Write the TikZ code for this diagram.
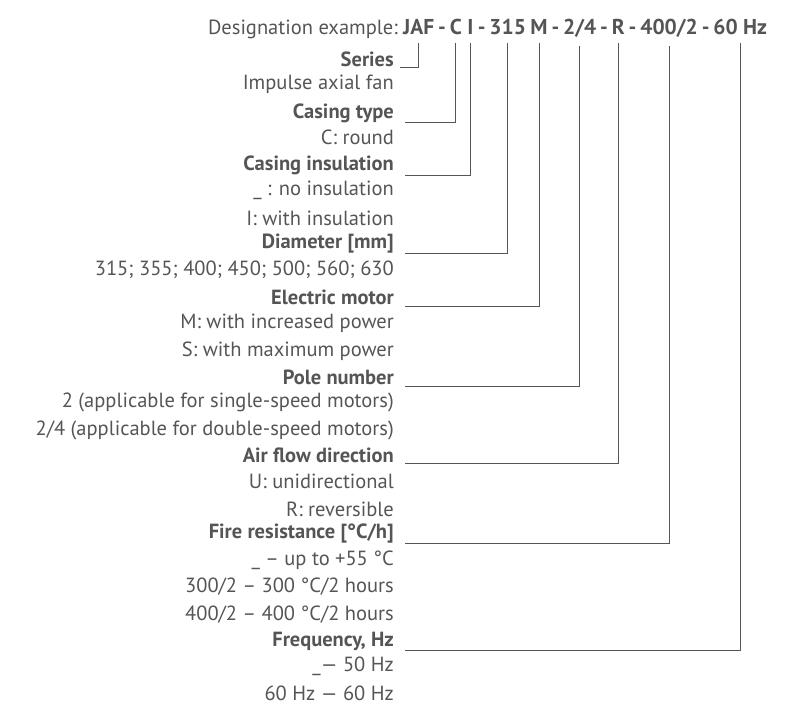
\documentclass[tikz,border=0pt]{standalone}
\usepackage{fontspec}
\setmainfont{PT Sans}
\definecolor{tg}{HTML}{555555}
\begin{document}
\begin{tikzpicture}[x=1pt,y=1pt,
  lbl/.style={anchor=east,inner sep=0pt,text=tg,font=\fontsize{20.5}{24}\selectfont},
  hd/.style={lbl,font=\fontsize{20.5}{24}\selectfont\bfseries},
  tok/.style={inner sep=0pt,text=tg,font=\fontsize{21.5}{24}\selectfont\bfseries,anchor=base west},
  ln/.style={draw=tg,line width=0.8pt}]
\useasboundingbox (0,0) rectangle (788,-711);
\node[lbl,anchor=base east] (de) at (398,-35) {Designation example:};
\node[tok] (jaf) at (403,-35) {JAF};
\node[tok] (d1) at ([xshift=3.5pt]jaf.base east) {-};
\node[tok] (c) at ([xshift=3.5pt]d1.base east) {C};
\node[tok] (i) at ([xshift=5pt]c.base east) {I};
\node[tok] (d2) at ([xshift=4pt]i.base east) {-};
\node[tok] (d) at ([xshift=3.5pt]d2.base east) {315};
\node[tok] (m) at ([xshift=4pt]d.base east) {M};
\node[tok] (d3) at ([xshift=3.5pt]m.base east) {-};
\node[tok] (p) at ([xshift=3.5pt]d3.base east) {2/4};
\node[tok] (d4) at ([xshift=3.5pt]p.base east) {-};
\node[tok] (r) at ([xshift=3.5pt]d4.base east) {R};
\node[tok] (d5) at ([xshift=3.5pt]r.base east) {-};
\node[tok] (f) at ([xshift=3.5pt]d5.base east) {400/2};
\node[tok] (d6) at ([xshift=3.5pt]f.base east) {-};
\node[tok] (hz) at ([xshift=3.5pt]d6.base east) {60 Hz};
\node[hd] (s) at (394,-59) {Series};
\node[lbl] (s1) at (394,-84) {Impulse axial fan};
\node[hd] (ct) at (394,-113) {Casing type};
\node[lbl] at (394,-137) {C: round};
\node[hd] (ci) at (394,-165) {Casing insulation};
\node[lbl] at (394,-190) {\_ : no insulation};
\node[lbl] at (394,-218) {I: with insulation};
\node[hd] (dm) at (394,-244) {Diameter [mm]};
\node[lbl] at (394,-270) {315; 355; 400; 450; 500; 560; 630};
\node[hd] (em) at (394,-297) {Electric motor};
\node[lbl] at (394,-323) {M: with increased power};
\node[lbl] at (394,-351) {S: with maximum power};
\node[hd] (pn) at (394,-377) {Pole number};
\node[lbl] at (394,-402) {2 (applicable for single-speed motors)};
\node[lbl] at (394,-430) {2/4 (applicable for double-speed motors)};
\node[hd] (af) at (394,-455) {Air flow direction};
\node[lbl] at (394,-481) {U: unidirectional};
\node[lbl] at (394,-509) {R: reversible};
\node[hd] (fr) at (394,-534) {Fire resistance [°C/h]};
\node[lbl] at (394,-560) {\_ – up to +55 °C};
\node[lbl] at (394,-587) {300/2 – 300 °C/2 hours};
\node[lbl] at (394,-615) {400/2 – 400 °C/2 hours};
\node[hd] (fq) at (394,-641) {Frequency, Hz};
\node[lbl] at (394,-666) {\_— 50 Hz};
\node[lbl] at (394,-693) {60 Hz — 60 Hz};
\path[ln] (400,-67) -| ([yshift=-8pt]jaf.south);
\foreach \h/\t/\y in {ct/c/122,ci/i/175,dm/d/253,em/m/306,pn/p/386,af/r/463,fr/f/543,fq/hz/650}
  \path[ln] (405,-\y) -| ([yshift=-8pt]\t.south);
\end{tikzpicture}
\end{document}
